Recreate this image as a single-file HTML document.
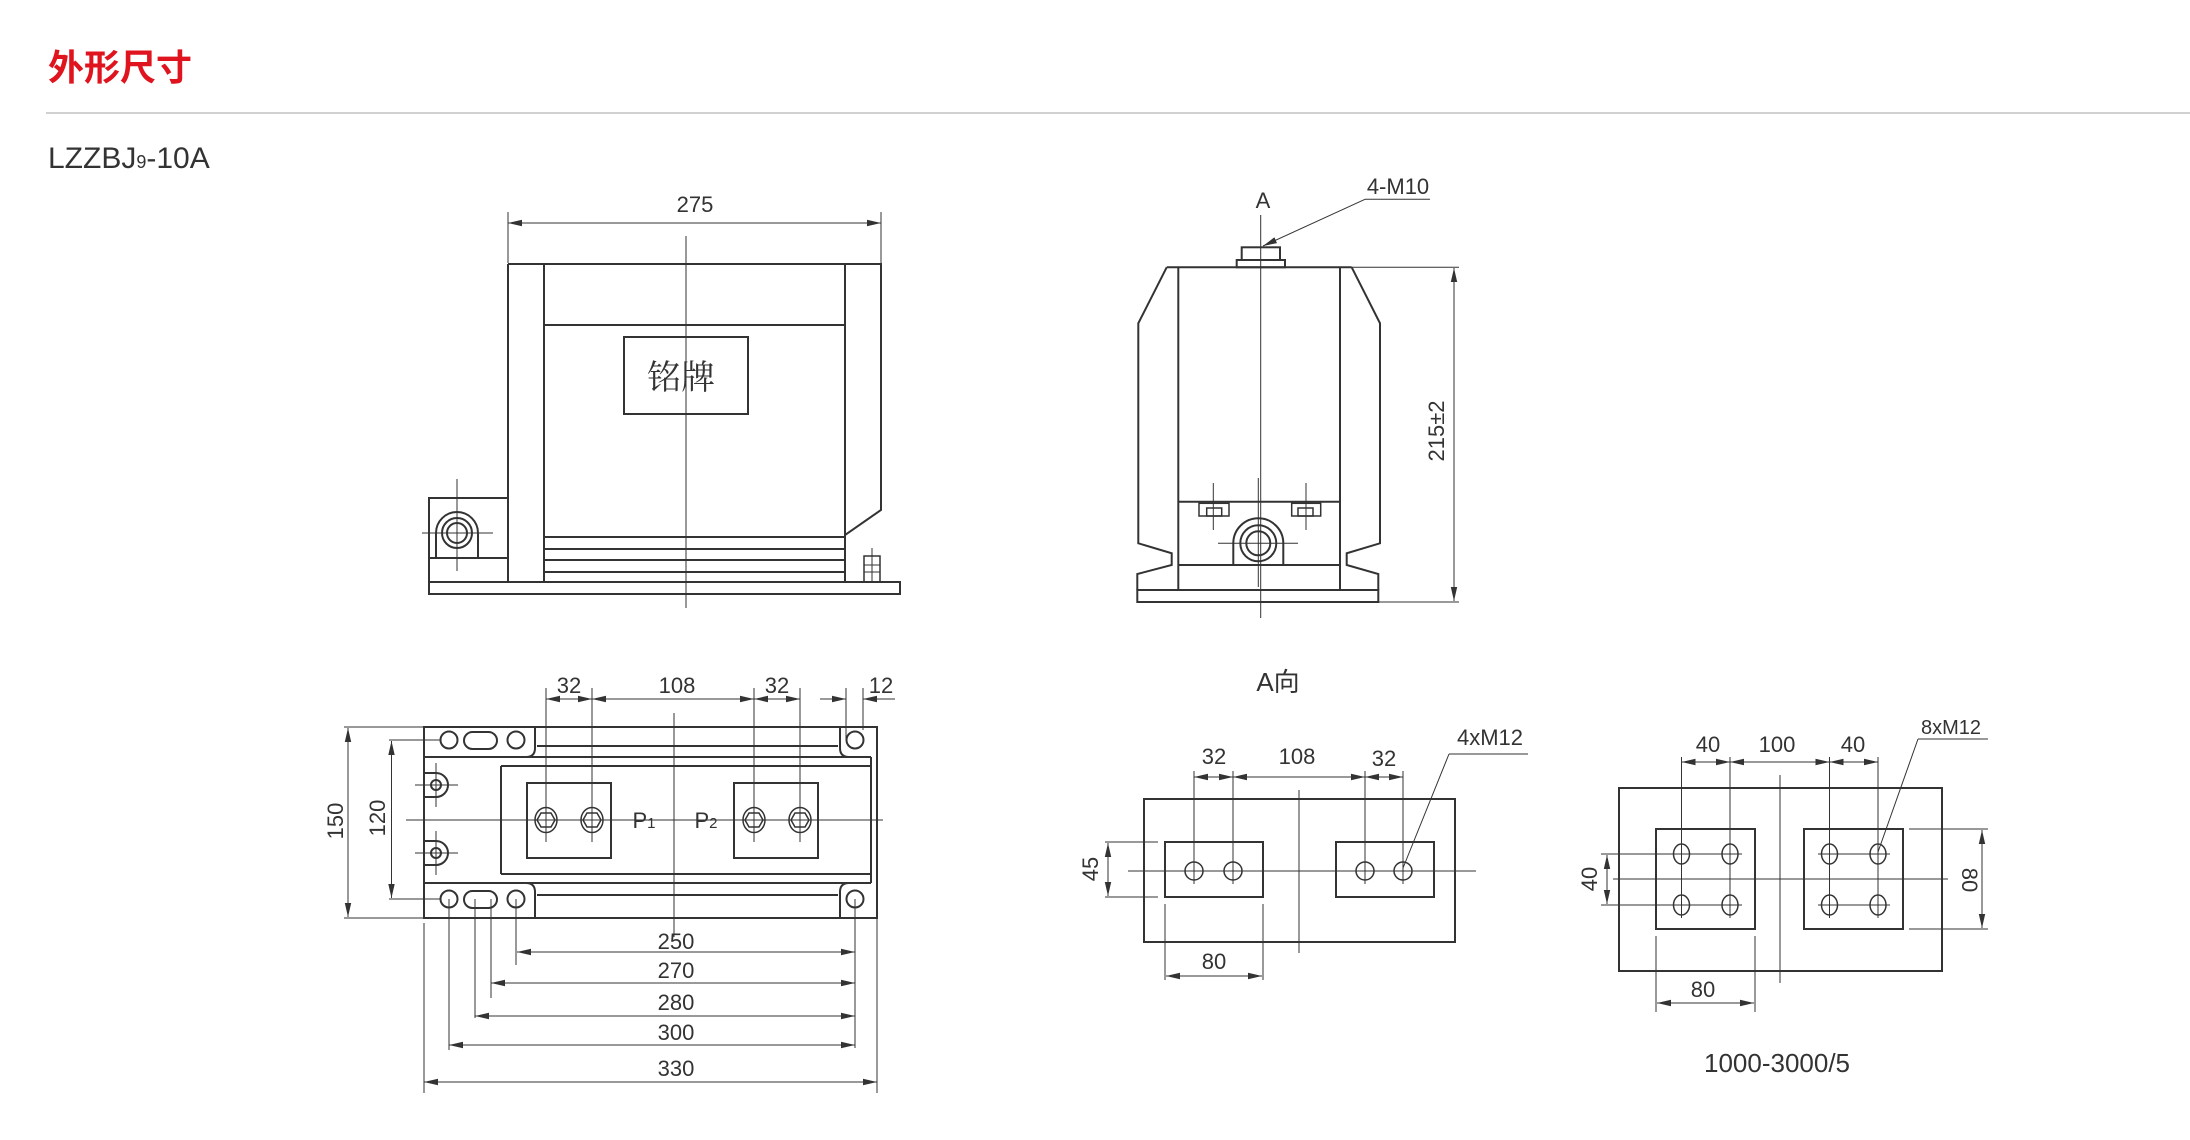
<!DOCTYPE html>
<html><head><meta charset="utf-8"><style>
html,body{margin:0;padding:0;background:#fff;}
svg{display:block;}
text{font-family:"Liberation Sans","Noto Sans CJK SC",sans-serif;fill:#333;}
</style></head><body>
<svg width="2190" height="1140" viewBox="0 0 2190 1140" xmlns="http://www.w3.org/2000/svg">
<defs>
<marker id="a" viewBox="0 0 14 8" refX="14" refY="4" markerWidth="14" markerHeight="8" markerUnits="userSpaceOnUse" orient="auto-start-reverse"><path d="M0,0.8 L14,4 L0,7.2 z" fill="#333"/></marker>
</defs>
<text x="48" y="80" font-size="36" style="fill:#e0141e;font-family:'Liberation Sans','Noto Sans CJK SC',sans-serif;font-weight:bold">外形尺寸</text>
<line x1="46" y1="113" x2="2190" y2="113" stroke="#c0c0c0" stroke-width="1.5"/>
<text x="48" y="168" font-size="30">LZZBJ<tspan font-size="18">9</tspan>-10A</text>

<g stroke="#333" fill="none" stroke-width="2">
<!-- front view -->
<path d="M508,264 H881 V510 L845,535 V582"/>
<line x1="508" y1="264" x2="508" y2="582"/>
<line x1="544" y1="264" x2="544" y2="582"/>
<line x1="845" y1="264" x2="845" y2="535"/>
<line x1="544" y1="325" x2="845" y2="325"/>
<rect x="624" y="337" width="124" height="77"/>
<line x1="544" y1="537" x2="845" y2="537"/>
<line x1="544" y1="549" x2="845" y2="549"/>
<line x1="544" y1="560" x2="845" y2="560"/>
<line x1="544" y1="572" x2="845" y2="572"/>
<rect x="429" y="582" width="471" height="12"/>
<rect x="429" y="498" width="79" height="84"/>
<line x1="429" y1="558" x2="508" y2="558"/>
<path d="M436,558 V533 A21,21 0 0 1 478,533 V558"/>
<circle cx="457" cy="533" r="15"/>
<circle cx="457" cy="533" r="10"/>
<rect x="864" y="556" width="16" height="26" stroke-width="1.5"/>
<line x1="864" y1="565" x2="880" y2="565" stroke-width="1"/>
<line x1="864" y1="572" x2="880" y2="572" stroke-width="1"/>
<!-- side view -->
<path d="M1166.7,267.3 L1138.3,323.3 V543.3 L1171.7,553.3 V565 L1137.3,574 V590"/>
<path d="M1351.7,267.3 L1380,323.3 V543.3 L1346.7,553.3 V565 L1378.3,574 V590"/>
<line x1="1166.7" y1="267.3" x2="1351.7" y2="267.3"/>
<line x1="1178.3" y1="267.3" x2="1178.3" y2="590"/>
<line x1="1340" y1="267.3" x2="1340" y2="590"/>
<rect x="1137.3" y="590" width="241" height="12"/>
<rect x="1241.7" y="247.3" width="38.3" height="12.7"/>
<rect x="1236.7" y="260" width="48.3" height="7.3"/>
<line x1="1178.3" y1="501.7" x2="1340" y2="501.7"/>
<line x1="1178.3" y1="565" x2="1340" y2="565"/>
<rect x="1199" y="503.3" width="30" height="12.7" stroke-width="1.5"/>
<rect x="1206.7" y="508" width="15" height="8" stroke-width="1.5"/>
<rect x="1291.7" y="503.3" width="29" height="12.7" stroke-width="1.5"/>
<rect x="1298" y="508" width="15" height="8" stroke-width="1.5"/>
<path d="M1233.3,565 V543.3 A25,25 0 0 1 1283.3,543.3 V565"/>
<circle cx="1258.3" cy="543.3" r="18"/>
<circle cx="1258.3" cy="543.3" r="12"/>
<!-- plan view -->
<rect x="424" y="727" width="453" height="191"/>
<circle cx="449" cy="740" r="8.5"/><rect x="464" y="732" width="33" height="17" rx="8.5"/><circle cx="516" cy="740" r="8.5"/>
<circle cx="449" cy="899" r="8.5"/><rect x="464" y="891" width="33" height="17" rx="8.5"/><circle cx="516" cy="899" r="8.5"/>
<circle cx="855" cy="740" r="8.5"/><circle cx="855" cy="899" r="8.5"/>
<path d="M535,727 V748 Q535,757 526,757"/>
<path d="M840,727 V748 Q840,757 849,757"/>
<path d="M535,918 V892 Q535,883 526,883"/>
<path d="M840,918 V892 Q840,883 849,883"/>
<line x1="424" y1="757" x2="871" y2="757"/>
<line x1="424" y1="883" x2="871" y2="883"/>
<line x1="537" y1="746" x2="838" y2="746"/>
<line x1="537" y1="895" x2="838" y2="895"/>
<line x1="501" y1="766" x2="871" y2="766"/>
<line x1="501" y1="874" x2="871" y2="874"/>
<line x1="501" y1="766" x2="501" y2="874"/>
<line x1="871" y1="757" x2="871" y2="883"/>
<path d="M424,773 H436 A12,12 0 0 1 436,797 H424"/><circle cx="436" cy="785" r="5"/>
<path d="M424,841 H436 A12,12 0 0 1 436,865 H424"/><circle cx="436" cy="853" r="5"/>
<rect x="527" y="783" width="84" height="75"/>
<rect x="734" y="783" width="84" height="75"/>
<g stroke-width="1.5">
<ellipse cx="546" cy="820" rx="11" ry="12.5"/><path d="M541,813 H551 L555,820 L551,827 H541 L537,820 z"/>
<ellipse cx="592" cy="820" rx="11" ry="12.5"/><path d="M587,813 H597 L601,820 L597,827 H587 L583,820 z"/>
<ellipse cx="754" cy="820" rx="11" ry="12.5"/><path d="M749,813 H759 L763,820 L759,827 H749 L745,820 z"/>
<ellipse cx="800" cy="820" rx="11" ry="12.5"/><path d="M795,813 H805 L809,820 L805,827 H795 L791,820 z"/>
</g>
<!-- A view -->
<rect x="1144" y="799" width="311" height="143"/>
<rect x="1165" y="842" width="98" height="55"/>
<rect x="1336" y="842" width="98" height="55"/>
<!-- right view -->
<rect x="1619" y="788" width="323" height="183"/>
<rect x="1656" y="829" width="99" height="100"/>
<rect x="1804" y="829" width="99" height="100"/>
</g>

<g stroke="#333" fill="none" stroke-width="1.5">
<circle cx="1194" cy="871" r="9"/><circle cx="1233" cy="871" r="9"/><circle cx="1365" cy="871" r="9"/><circle cx="1403" cy="871" r="9"/>
<ellipse cx="1681.5" cy="854" rx="8" ry="10"/><ellipse cx="1730" cy="854" rx="8" ry="10"/><ellipse cx="1829.5" cy="854" rx="8" ry="10"/><ellipse cx="1878" cy="854" rx="8" ry="10"/>
<ellipse cx="1681.5" cy="905" rx="8" ry="10"/><ellipse cx="1730" cy="905" rx="8" ry="10"/><ellipse cx="1829.5" cy="905" rx="8" ry="10"/><ellipse cx="1878" cy="905" rx="8" ry="10"/>
</g>

<g stroke="#333" fill="none" stroke-width="1">
<!-- centre lines & crosshairs front -->
<line x1="686" y1="236" x2="686" y2="608"/>
<line x1="457" y1="479" x2="457" y2="571"/>
<line x1="422" y1="533" x2="493" y2="533"/>
<line x1="872" y1="548" x2="872" y2="582"/>
<!-- dims front -->
<line x1="508" y1="212" x2="508" y2="263"/>
<line x1="881" y1="212" x2="881" y2="263"/>
<line x1="508" y1="223" x2="881" y2="223" marker-start="url(#a)" marker-end="url(#a)"/>
<!-- side -->
<line x1="1260.7" y1="215" x2="1260.7" y2="618"/>
<line x1="1213.3" y1="483" x2="1213.3" y2="530"/>
<line x1="1306" y1="483" x2="1306" y2="530"/>
<line x1="1218" y1="543.3" x2="1298" y2="543.3"/>
<line x1="1258.3" y1="478" x2="1258.3" y2="587"/>
<line x1="1351.7" y1="267.3" x2="1459" y2="267.3"/>
<line x1="1378.3" y1="602" x2="1459" y2="602"/>
<line x1="1454" y1="268" x2="1454" y2="601" marker-start="url(#a)" marker-end="url(#a)"/>
<polyline points="1430,199.3 1365,199.3"/>
<line x1="1365" y1="199.3" x2="1263" y2="246" marker-end="url(#a)"/>
<!-- plan -->
<line x1="406" y1="820" x2="883" y2="820"/>
<line x1="674" y1="713" x2="674" y2="937"/>
<line x1="415" y1="785" x2="458" y2="785"/><line x1="436" y1="763" x2="436" y2="807"/>
<line x1="415" y1="853" x2="458" y2="853"/><line x1="436" y1="831" x2="436" y2="875"/>
<line x1="546" y1="688" x2="546" y2="842"/>
<line x1="592" y1="688" x2="592" y2="842"/>
<line x1="754" y1="688" x2="754" y2="842"/>
<line x1="800" y1="688" x2="800" y2="842"/>
<line x1="846" y1="688" x2="846" y2="740"/>
<line x1="863" y1="688" x2="863" y2="730"/>
<line x1="546" y1="699" x2="592" y2="699" marker-start="url(#a)" marker-end="url(#a)"/>
<line x1="592" y1="699" x2="754" y2="699" marker-start="url(#a)" marker-end="url(#a)"/>
<line x1="754" y1="699" x2="800" y2="699" marker-start="url(#a)" marker-end="url(#a)"/>
<line x1="820" y1="699" x2="846" y2="699" marker-end="url(#a)"/>
<line x1="895" y1="699" x2="863" y2="699" marker-end="url(#a)"/>
<line x1="344" y1="727" x2="424" y2="727"/>
<line x1="344" y1="918" x2="424" y2="918"/>
<line x1="348" y1="728" x2="348" y2="917" marker-start="url(#a)" marker-end="url(#a)"/>
<line x1="389" y1="740" x2="441" y2="740"/>
<line x1="389" y1="899" x2="441" y2="899"/>
<line x1="391.5" y1="741" x2="391.5" y2="898" marker-start="url(#a)" marker-end="url(#a)"/>
<line x1="424" y1="923" x2="424" y2="1093"/>
<line x1="449" y1="899" x2="449" y2="1050"/>
<line x1="475" y1="899" x2="475" y2="1018"/>
<line x1="491" y1="899" x2="491" y2="998"/>
<line x1="516" y1="899" x2="516" y2="965"/>
<line x1="855" y1="899" x2="855" y2="1048"/>
<line x1="877" y1="918" x2="877" y2="1093"/>
<line x1="517" y1="952" x2="855" y2="952" marker-start="url(#a)" marker-end="url(#a)"/>
<line x1="491" y1="983" x2="855" y2="983" marker-start="url(#a)" marker-end="url(#a)"/>
<line x1="475" y1="1016" x2="855" y2="1016" marker-start="url(#a)" marker-end="url(#a)"/>
<line x1="449" y1="1045" x2="855" y2="1045" marker-start="url(#a)" marker-end="url(#a)"/>
<line x1="424" y1="1082" x2="877" y2="1082" marker-start="url(#a)" marker-end="url(#a)"/>
<!-- A view -->
<line x1="1128" y1="871" x2="1476" y2="871"/>
<line x1="1299" y1="790" x2="1299" y2="953"/>
<line x1="1194" y1="771" x2="1194" y2="884"/>
<line x1="1233" y1="771" x2="1233" y2="884"/>
<line x1="1365" y1="771" x2="1365" y2="884"/>
<line x1="1403" y1="771" x2="1403" y2="884"/>
<line x1="1194" y1="777" x2="1233" y2="777" marker-start="url(#a)" marker-end="url(#a)"/>
<line x1="1233" y1="777" x2="1365" y2="777" marker-start="url(#a)" marker-end="url(#a)"/>
<line x1="1365" y1="777" x2="1403" y2="777" marker-start="url(#a)" marker-end="url(#a)"/>
<line x1="1528" y1="754" x2="1449" y2="754"/>
<line x1="1449" y1="754" x2="1403" y2="868"/>
<line x1="1105" y1="842" x2="1158" y2="842"/>
<line x1="1105" y1="897" x2="1158" y2="897"/>
<line x1="1108" y1="843" x2="1108" y2="896" marker-start="url(#a)" marker-end="url(#a)"/>
<line x1="1165" y1="904" x2="1165" y2="980"/>
<line x1="1263" y1="904" x2="1263" y2="980"/>
<line x1="1166" y1="976" x2="1262" y2="976" marker-start="url(#a)" marker-end="url(#a)"/>
<!-- right view -->
<line x1="1613" y1="879" x2="1948" y2="879"/>
<line x1="1780" y1="775" x2="1780" y2="983"/>
<line x1="1681.5" y1="757" x2="1681.5" y2="918"/>
<line x1="1730" y1="757" x2="1730" y2="918"/>
<line x1="1829.5" y1="757" x2="1829.5" y2="918"/>
<line x1="1878" y1="757" x2="1878" y2="918"/>
<line x1="1670" y1="854" x2="1742" y2="854"/><line x1="1818" y1="854" x2="1890" y2="854"/>
<line x1="1670" y1="905" x2="1742" y2="905"/><line x1="1818" y1="905" x2="1890" y2="905"/>
<line x1="1601" y1="854" x2="1670" y2="854"/>
<line x1="1601" y1="905" x2="1670" y2="905"/>
<line x1="1681.5" y1="762" x2="1730" y2="762" marker-start="url(#a)" marker-end="url(#a)"/>
<line x1="1730" y1="762" x2="1829.5" y2="762" marker-start="url(#a)" marker-end="url(#a)"/>
<line x1="1829.5" y1="762" x2="1878" y2="762" marker-start="url(#a)" marker-end="url(#a)"/>
<line x1="1988" y1="739" x2="1918" y2="739"/>
<line x1="1918" y1="739" x2="1878" y2="852"/>
<line x1="1607" y1="855" x2="1607" y2="904" marker-start="url(#a)" marker-end="url(#a)"/>
<line x1="1909" y1="829" x2="1988" y2="829"/>
<line x1="1909" y1="929" x2="1988" y2="929"/>
<line x1="1982" y1="830" x2="1982" y2="928" marker-start="url(#a)" marker-end="url(#a)"/>
<line x1="1656" y1="936" x2="1656" y2="1012"/>
<line x1="1755" y1="936" x2="1755" y2="1012"/>
<line x1="1657" y1="1003" x2="1754" y2="1003" marker-start="url(#a)" marker-end="url(#a)"/>
</g>

<g font-size="22" text-anchor="middle">
<text x="695" y="212">275</text>
<text x="681" y="389" font-size="34" style="font-family:'Liberation Serif','Noto Serif CJK SC',serif">铭牌</text>
<text x="1263" y="208">A</text>
<text x="1398" y="194">4-M10</text>
<text transform="translate(1444,431) rotate(-90)">215±2</text>
<text x="569" y="693">32</text>
<text x="677" y="693">108</text>
<text x="777" y="693">32</text>
<text x="881" y="693">12</text>
<text transform="translate(343,821) rotate(-90)">150</text>
<text transform="translate(385,818) rotate(-90)">120</text>
<text x="644" y="828">P<tspan font-size="15">1</tspan></text>
<text x="706" y="828">P<tspan font-size="15">2</tspan></text>
<text x="676" y="949">250</text>
<text x="676" y="978">270</text>
<text x="676" y="1010">280</text>
<text x="676" y="1040">300</text>
<text x="676" y="1076">330</text>
<text x="1278" y="691" font-size="26">A向</text>
<text x="1214" y="764">32</text>
<text x="1297" y="764">108</text>
<text x="1384" y="766">32</text>
<text x="1490" y="745">4xM12</text>
<text transform="translate(1098,869) rotate(-90)">45</text>
<text x="1214" y="969">80</text>
<text x="1708" y="752">40</text>
<text x="1777" y="752">100</text>
<text x="1853" y="752">40</text>
<text x="1951" y="734" font-size="20">8xM12</text>
<text transform="translate(1597,879) rotate(-90)">40</text>
<text transform="translate(1962,880) rotate(90)">80</text>
<text x="1703" y="997">80</text>
<text x="1777" y="1072" font-size="26">1000-3000/5</text>
</g>
</svg>
</body></html>
